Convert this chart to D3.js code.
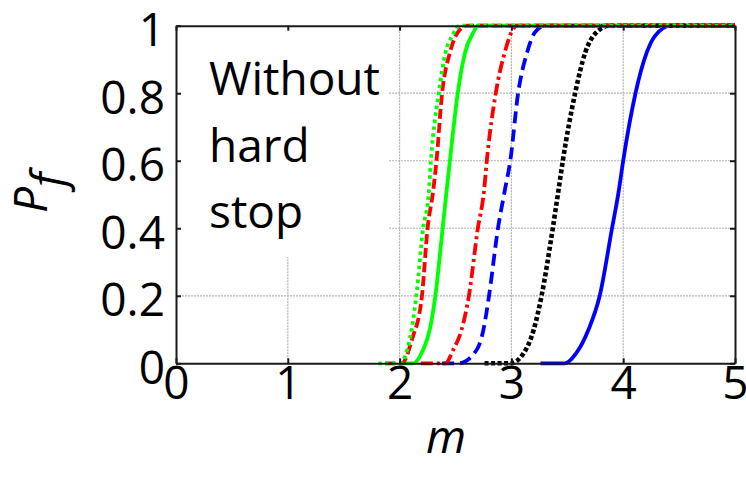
<!DOCTYPE html>
<html>
<head>
<meta charset="utf-8">
<script src="https://cdn.jsdelivr.net/npm/d3@7"></script>
<style>
  body { margin: 0; background: #fff; }
  svg { display: block; font-family: "Open Sans", sans-serif; }
</style>
</head>
<body>
<svg width="746" height="477"></svg>
<script>
// tick values
xTicks = [0, 1, 2, 3, 4, 5]
yTicks = [0, 0.2, 0.4, 0.6, 0.8, 1]
yTickLabels = ['0', '0.2', '0.4', '0.6', '0.8', '1']
gridX = [1, 2, 3, 4]
gridY = [0.2, 0.4, 0.6, 0.8]

greenDottedM = [1.81, 2.00, 2.09, 2.15, 2.21, 2.26, 2.28, 2.35, 2.41, 2.47, 2.54, 5]
greenDottedP = [0, 0, 0.07, 0.20, 0.40, 0.50, 0.60, 0.80, 0.92, 0.97, 1, 1]
redDashedM = [1.87, 2.02, 2.11, 2.20, 2.25, 2.30, 2.33, 2.38, 2.45, 2.52, 2.60, 5]
redDashedP = [0, 0, 0.07, 0.20, 0.40, 0.51, 0.60, 0.80, 0.92, 0.98, 1, 1]
greenSolidM = [2.02, 2.12, 2.21, 2.27, 2.32, 2.385, 2.42, 2.45, 2.52, 2.585, 2.66, 2.70, 5]
greenSolidP = [0, 0, 0.04, 0.10, 0.20, 0.40, 0.51, 0.60, 0.80, 0.92, 0.98, 1, 1]
redDashDotM = [2.19, 2.41, 2.48, 2.555, 2.62, 2.70, 2.755, 2.78, 2.86, 2.94, 3.00, 3.05, 5]
redDashDotP = [0, 0, 0.04, 0.10, 0.20, 0.40, 0.51, 0.60, 0.80, 0.92, 0.98, 1, 1]
blueDashedM = [2.38, 2.53, 2.69, 2.75, 2.80, 2.88, 2.94, 2.99, 3.06, 3.14, 3.21, 3.30, 5]
blueDashedP = [0, 0, 0.04, 0.10, 0.20, 0.40, 0.51, 0.60, 0.80, 0.92, 0.98, 1, 1]
blackDottedM = [2.76, 2.99, 3.11, 3.20, 3.27, 3.37, 3.42, 3.46, 3.57, 3.66, 3.76, 3.88, 5]
blackDottedP = [0, 0, 0.03, 0.10, 0.20, 0.40, 0.51, 0.60, 0.80, 0.92, 0.98, 1, 1]
blueSolidM = [3.26, 3.48, 3.58, 3.69, 3.79, 3.90, 3.96, 4.00, 4.11, 4.21, 4.285, 4.43, 5]
blueSolidP = [0, 0, 0.03, 0.10, 0.20, 0.40, 0.51, 0.60, 0.80, 0.92, 0.97, 1, 1]

annotation = ['Without', 'hard', 'stop']

// draw order matters at Pf = 1 where everything overlaps
curves = [
    {m: greenSolidM, p: greenSolidP, color: '#00ff00', dash: null, w: 3.8},
    {m: blueSolidM, p: blueSolidP, color: '#0000ff', dash: null, w: 3.8},
    {m: blueDashedM, p: blueDashedP, color: '#0000ff', dash: '12,6', w: 3.8},
    {m: redDashDotM, p: redDashDotP, color: '#ff0000', dash: '12,4,3,4', w: 3.8},
    {m: blackDottedM, p: blackDottedP, color: '#000000', dash: '4,2.5', w: 4.6},
    {m: redDashedM, p: redDashedP, color: '#ff0000', dash: '10,4', w: 3.8},
    {m: greenDottedM, p: greenDottedP, color: '#00ff00', dash: '3.5,3.5', w: 3.8},
]

let svg = d3.select('svg')
let x = d3.scaleLinear().domain([0, 5]).range([176, 735])
let y = d3.scaleLinear().domain([0, 1]).range([363.3, 25.7])

svg.append('rect').attr('width', 746).attr('height', 477).attr('fill', '#fff')

// grid
let grid = svg.append('g').attr('stroke', '#b3b3b3').attr('stroke-width', 1.2).attr('stroke-dasharray', '2,1')
grid.selectAll('.gx').data(gridX).enter().append('line')
    .attr('x1', d => x(d)).attr('x2', d => x(d))
    .attr('y1', y(0)).attr('y2', y(1))
grid.selectAll('.gy').data(gridY).enter().append('line')
    .attr('x1', x(0)).attr('x2', x(5))
    .attr('y1', d => y(d)).attr('y2', d => y(d))

// white text box hides the grid behind the annotation
svg.append('rect')
    .attr('x', x(0) + 1).attr('y', y(1) + 1)
    .attr('width', 389 - x(0) - 1).attr('height', 257 - y(1) - 1)
    .attr('fill', '#fff')

svg.append('g').selectAll('text').data(annotation).enter().append('text')
    .attr('x', 209)
    .attr('y', (d, i) => 95 + i * 66.5)
    .attr('font-size', 46)
    .attr('fill', '#000')
    .text(d => d)

// curves
let line = d3.line()
    .x(d => x(d[0]))
    .y(d => y(d[1]))
    .curve(d3.curveMonotoneX)

svg.append('g').selectAll('path').data(curves).enter().append('path')
    .attr('d', c => line(d3.zip(c.m, c.p)))
    .attr('fill', 'none')
    .attr('stroke', c => c.color)
    .attr('stroke-width', c => c.w)
    .attr('stroke-dasharray', c => c.dash)

// axes box with inward ticks
let axisColor = '#1a1a1a'
let axBottom = svg.append('g').attr('transform', `translate(0,${y(0)})`)
    .call(d3.axisBottom(x).tickValues(xTicks).tickSize(-5).tickSizeOuter(0).tickFormat(d3.format('d')))
let axTop = svg.append('g').attr('transform', `translate(0,${y(1)})`)
    .call(d3.axisTop(x).tickValues(xTicks).tickSize(-5).tickSizeOuter(0).tickFormat(''))
let axLeft = svg.append('g').attr('transform', `translate(${x(0)},0)`)
    .call(d3.axisLeft(y).tickValues(yTicks).tickSize(-5).tickSizeOuter(0).tickFormat((d, i) => yTickLabels[i]))
let axRight = svg.append('g').attr('transform', `translate(${x(5)},0)`)
    .call(d3.axisRight(y).tickValues(yTicks).tickSize(-5).tickSizeOuter(0).tickFormat(''))

;[axBottom, axTop, axLeft, axRight].forEach(g => {
    g.select('.domain').attr('stroke', axisColor).attr('stroke-width', 2)
    g.selectAll('.tick line').attr('stroke', axisColor).attr('stroke-width', 2)
    g.selectAll('text').attr('font-family', '"Open Sans", sans-serif').attr('font-size', 46).attr('fill', '#000')
})

axBottom.selectAll('text').attr('y', 36).attr('dy', null)
axLeft.selectAll('text').attr('x', -11).attr('dy', null).attr('y', 20)

// axis titles
svg.append('text')
    .attr('x', 446).attr('y', 453)
    .attr('text-anchor', 'middle')
    .attr('font-size', 46)
    .attr('font-style', 'italic')
    .text('m')

let ylab = svg.append('text')
    .attr('transform', 'translate(47,213) rotate(-90)')
    .attr('font-size', 46)
    .attr('font-style', 'italic')
ylab.append('tspan').text('P')
ylab.append('tspan').attr('dy', 17).text('f')
</script>
</body>
</html>
